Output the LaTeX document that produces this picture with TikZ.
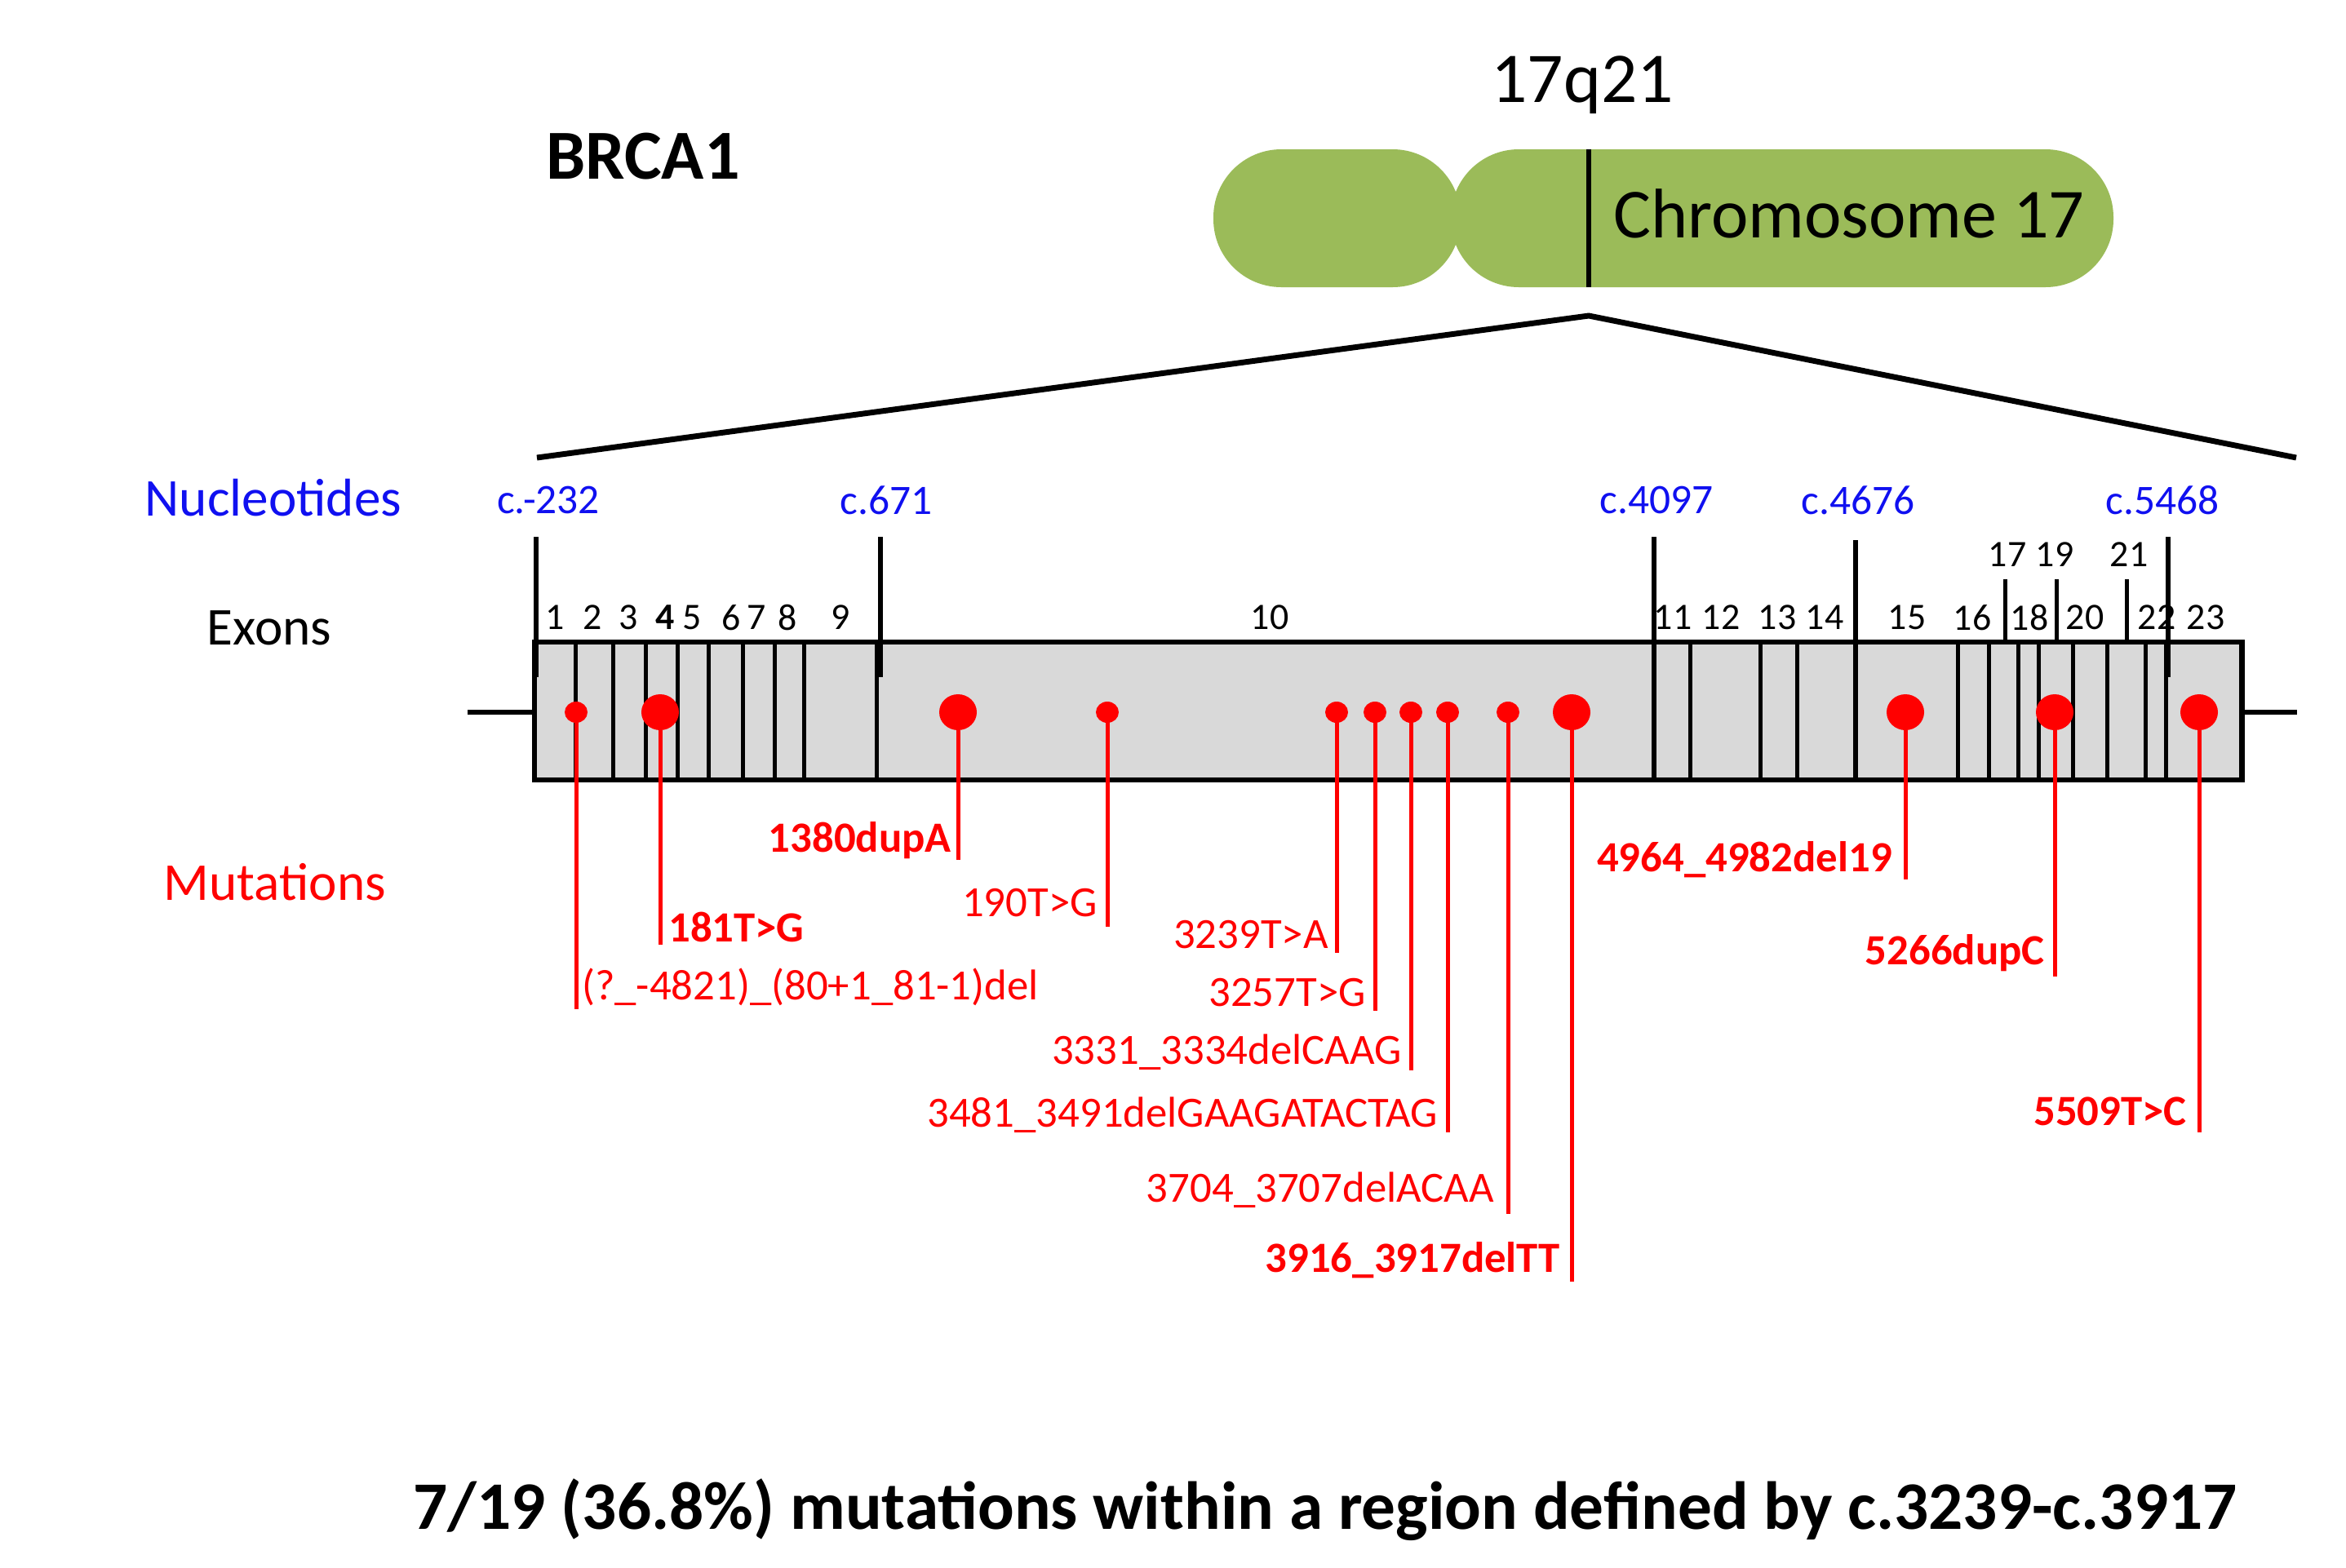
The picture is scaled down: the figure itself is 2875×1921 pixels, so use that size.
\documentclass[tikz,border=0pt]{standalone}
\usepackage{fontspec}
\setmainfont{Carlito}
\definecolor{chr}{HTML}{9BBB59}
\definecolor{box}{HTML}{D9D9D9}
\definecolor{nblue}{HTML}{1010F0}
\definecolor{mred}{HTML}{FF0000}
\begin{document}
\begin{tikzpicture}[x=0.72pt,y=-0.72pt,
  lbl/.style={inner sep=0pt},
  nuc/.style={lbl,text=nblue,font=\fontsize{37}{40}\selectfont},
  ex/.style={lbl,font=\fontsize{33}{36}\selectfont},
  side/.style={lbl,font=\fontsize{47}{50}\selectfont},
  mut/.style={lbl,text=mred,font=\fontsize{38}{41}\selectfont},
  mutb/.style={mut,font=\fontsize{38}{41}\selectfont\bfseries},
  stem/.style={mred,line width=3.6pt},
  sdot/.style={mred,fill=mred},
  ln/.style={line width=3.6pt},
  tick/.style={line width=4.2pt}]
\useasboundingbox (0,0) rectangle (2875,1921);
% chromosome
\fill[chr,rounded corners=60pt] (1487,183) rectangle (1790,352);
\fill[chr,rounded corners=60pt] (1778,183) rectangle (2590,352);
\draw[line width=5pt] (1947,183) -- (1947,352);
\node[lbl,font=\fontsize{62}{66}\selectfont] (c17) at (2266,262) {Chromosome 17};
\node[lbl,font=\fontsize{63}{66}\selectfont] (q) at (1939,104) {17q21};
\node[lbl,font=\fontsize{62}{66}\selectfont\bfseries] (brca) at (788,192) {BRCA1};
% zoom lines
\coordinate (zl) at (658,561); \coordinate (zt) at (1947,387); \coordinate (zr) at (2814,561);
\draw[line width=5pt] (zl) -- (zt) -- (zr);
% side labels
\node[side,text=nblue] (nl) at (335,610) {Nucleotides};
\node[side] (el) at (330,770) {Exons};
\node[side,text=mred] (ml) at (337,1081) {Mutations};
% gene box
\coordinate (gl) at (573,873); \coordinate (gr) at (2815,873);
\draw[line width=5pt] (gl) -- (655,873) (2747,873) -- (gr);
\filldraw[fill=box,line width=5pt] (655,787) rectangle (2747,956);
\foreach \x in {705,751,791,830,868,910,949,985,1074,2071,2157,2202,2399,2437,2473,2498,2540,2582,2629,2654}
  \draw[ln] (\x,787) -- (\x,956);
\draw[tick] (657,658) -- (657,830);
\draw[tick] (1079,658) -- (1079,830);
\draw[tick] (2027,658) -- (2027,956);
\draw[tick] (2274,662) -- (2274,956);
\draw[tick] (2657,658) -- (2657,830);
\foreach \x in {2457,2520,2606} \draw[ln] (\x,710) -- (\x,787);
% nucleotide labels
\node[nuc] (n1) at (672,613) {c.-232};
\node[nuc] (n2) at (1086,613) {c.671};
\node[nuc] (n3) at (2030,613) {c.4097};
\node[nuc] (n4) at (2277,613) {c.4676};
\node[nuc] (n5) at (2650,613) {c.5468};
% exon labels
\foreach \x/\t in {680/1,726/2,770/3,815/\textbf{4},848/5,896/6,927/7,965/8,1030/9,1556/10,2050/11,2109/12,2178/13,2236/14,2337/15,2417/16,2487/18,2555/20,2643/22,2703/23}
  \node[ex] at (\x,757) {\t};
\foreach \x/\t in {2460/17,2518/19,2609/21}
  \node[ex] at (\x,680) {\t};
% mutations
\foreach \x/\r/\e in {706/13/1237,809/22/1158,1174/22/1054,1357/13/1136,1638/13/1168,1685/13/1239,1729/13/1312,1774/13/1388,1848/13/1488,1926/22/1571,2335/22/1078,2518/22/1197,2695/22/1388}{
  \draw[stem] (\x,873) -- (\x,\e);
  \fill[sdot] (\x,873) ellipse [x radius=\r+1,y radius=\r];
}
\node[mut,anchor=west] (m1) at (713,1210) {(?\_-4821)\_(80+1\_81-1)del};
\node[mutb,anchor=west] (m2) at (819,1136) {181T>G};
\node[mutb,anchor=east] (m3) at (1166,1030) {1380dupA};
\node[mut,anchor=east] (m4) at (1345,1107) {190T>G};
\node[mut,anchor=east] (m5) at (1628,1146) {3239T>A};
\node[mut,anchor=east] (m6) at (1674,1217) {3257T>G};
\node[mut,anchor=east] (m7) at (1718,1290) {3331\_3334delCAAG};
\node[mut,anchor=east] (m8) at (1762,1367) {3481\_3491delGAAGATACTAG};
\node[mut,anchor=east] (m9) at (1831,1459) {3704\_3707delACAA};
\node[mutb,anchor=east] (m10) at (1912,1545) {3916\_3917delTT};
\node[mutb,anchor=east] (m11) at (2319,1054) {4964\_4982del19};
\node[mutb,anchor=east] (m12) at (2506,1168) {5266dupC};
\node[mutb,anchor=east] (m13) at (2680,1362) {5509T>C};
% bottom
\node[lbl,font=\fontsize{60}{64}\selectfont\bfseries] (bt) at (1624,1851) {7/19 (36.8\%) mutations within a region defined by c.3239-c.3917};
\end{tikzpicture}
\end{document}
